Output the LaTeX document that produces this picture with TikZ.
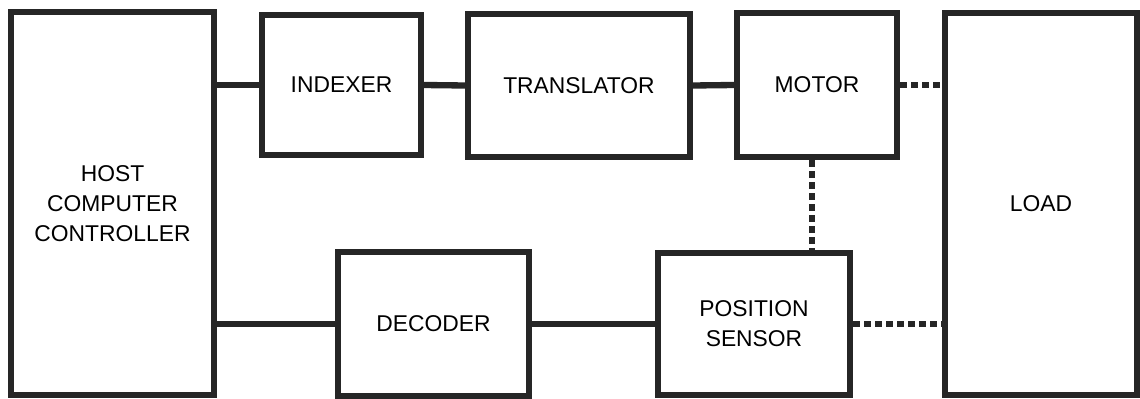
\documentclass[tikz,border=0pt]{standalone}
\usepackage{fontspec}
\setmainfont{Liberation Sans}
\tikzset{
  block/.style={draw=black!85, line width=3.6pt, align=center, inner sep=0pt},
  link/.style={draw=black!85, line width=3.6pt},
  dotlink/.style={draw=black!85, line width=3.6pt, dash pattern=on 0.14cm off 0.08cm}
}
\begin{document}
\begin{tikzpicture}[x=0.02cm, y=-0.02cm, font=\fontsize{13}{17}\selectfont]
	\useasboundingbox (0,0) rectangle (1140,399);
	% blocks, top row
	\node[block, minimum width=4.06cm, minimum height=7.66cm] (host) at (112.5,203.5) {HOST\\COMPUTER\\CONTROLLER};
	\node[block, minimum width=3.18cm, minimum height=2.8cm] (indexer) at (341.5,85) {INDEXER};
	\node[block, minimum width=4.44cm, minimum height=2.86cm] (translator) at (579,85.5) {TRANSLATOR};
	\node[block, minimum width=3.2cm, minimum height=2.88cm] (motor) at (817,85) {MOTOR};
	\node[block, minimum width=3.84cm, minimum height=7.64cm] (load) at (1041,204) {LOAD};
	% blocks, bottom row
	\node[block, minimum width=3.82cm, minimum height=2.88cm] (decoder) at (433.5,324) {DECODER};
	\node[block, minimum width=3.84cm, minimum height=2.84cm] (sensor) at (754,324) {POSITION\\SENSOR};

	% electrical links
	\draw[link] (host.east |- indexer.west) -- (indexer.west);
	\draw[link] (indexer.east) -- (translator.west);
	\draw[link] (translator.east) -- (motor.west);
	\draw[link] (host.east |- decoder.west) -- (decoder.west);
	\draw[link] (decoder.east) -- (sensor.west);

	% mechanical couplings
	\draw[dotlink] (motor.east) -- (motor.east -| load.west);
	\draw[dotlink] ([xshift=-0.1cm]motor.south) -- ([xshift=-0.1cm]motor.south |- sensor.north);
	\draw[dotlink] (sensor.east) -- (sensor.east -| load.west);
\end{tikzpicture}
\end{document}
